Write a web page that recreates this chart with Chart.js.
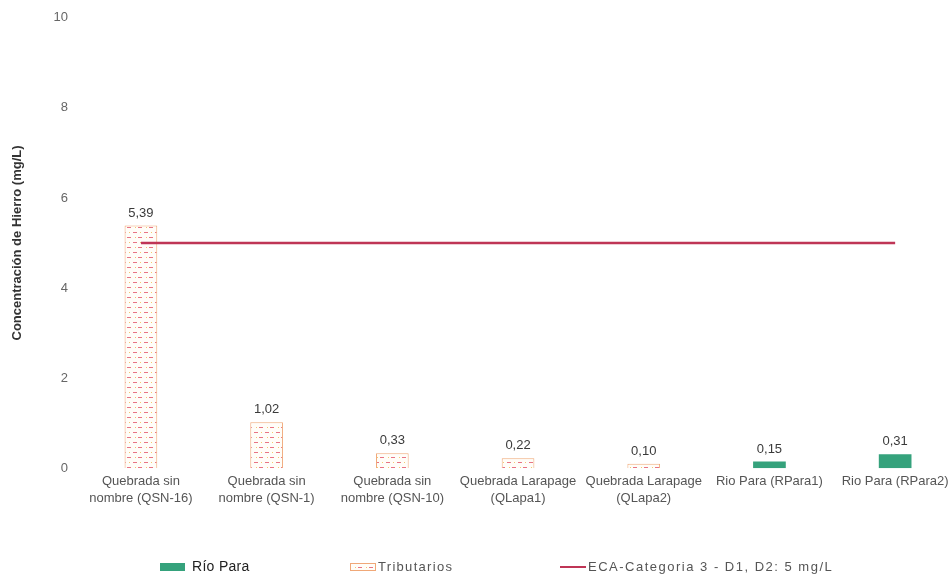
<!DOCTYPE html>
<html>
<head>
<meta charset="utf-8">
<script src="https://cdn.jsdelivr.net/npm/chart.js@4/dist/chart.umd.min.js"></script>
<style>
  html, body { margin: 0; padding: 0; background: #ffffff; overflow: hidden; }
  #wrap { width: 949px; height: 577px; overflow: hidden; }
  canvas { display: block; }
</style>
</head>
<body>
<div id="wrap"><canvas id="c" width="958" height="577"></canvas></div>
<script>
const categories = [
  ["Quebrada sin", "nombre (QSN-16)"],
  ["Quebrada sin", "nombre (QSN-1)"],
  ["Quebrada sin", "nombre (QSN-10)"],
  ["Quebrada Larapage", "(QLapa1)"],
  ["Quebrada Larapage", "(QLapa2)"],
  "Rio Para (RPara1)",
  "Rio Para (RPara2)"
];
const tributarios = [5.39, 1.02, 0.33, 0.22, 0.10, null, null];
const rioPara = [null, null, null, null, null, 0.15, 0.31];
const ecaLimit = [5, 5, 5, 5, 5, 5, 5];
const yTicks = [0, 2, 4, 6, 8, 10];

const seriesNames = { rio: "Río Para", trib: "Tributarios", eca: "ECA-Categoria 3 - D1, D2: 5 mg/L" };
const yTitle = "Concentración de Hierro (mg/L)";

const GREEN = '#35a27c';
const ECA_COLOR = '#bf3556';
const TRIB_BORDER = '#f0a878';
const FONT = '"Liberation Sans", Arial, sans-serif';

function makePattern() {
  const p = document.createElement('canvas');
  p.width = 11; p.height = 10;
  const g = p.getContext('2d');
  g.fillStyle = '#fffdf8';
  g.fillRect(0, 0, 11, 10);
  g.fillStyle = '#e87484';
  g.fillRect(1, 2, 4, 1);
  g.fillRect(6, 7, 4, 1);
  g.fillStyle = '#f3c870';
  g.fillRect(8, 2, 1, 1);
  g.fillRect(3, 7, 1, 1);
  return document.getElementById('c').getContext('2d').createPattern(p, 'repeat');
}
const tribPattern = makePattern();

const fmt = v => v.toFixed(2).replace('.', ',');

const spacing = {
  id: 'spacing',
  beforeInit(chart) { chart.ctx.letterSpacing = '0.4px'; }
};

const valueLabels = {
  id: 'valueLabels',
  afterDatasetsDraw(chart) {
    const ctx = chart.ctx;
    ctx.save();
    ctx.font = '13px ' + FONT;
    ctx.fillStyle = '#3a3a3a';
    ctx.textAlign = 'center';
    ctx.textBaseline = 'bottom';
    chart.data.datasets.forEach((ds, di) => {
      if (ds.type === 'line') return;
      const meta = chart.getDatasetMeta(di);
      meta.data.forEach((el, i) => {
        const v = ds.data[i];
        if (v === null || v === undefined) return;
        ctx.fillText(fmt(v), el.x, el.y - 6);
      });
    });
    ctx.restore();
  }
};

const customLegend = {
  id: 'customLegend',
  afterDraw(chart) {
    const ctx = chart.ctx;
    const y = chart.height - 10;
    ctx.save();
    ctx.textBaseline = 'middle';
    ctx.textAlign = 'left';
    // Río Para
    let x = 160;
    ctx.fillStyle = GREEN;
    ctx.fillRect(x, y - 4, 25, 8);
    ctx.font = '14px ' + FONT;
    ctx.letterSpacing = '0.3px';
    ctx.fillStyle = '#222';
    ctx.fillText(seriesNames.rio, x + 32, y);
    // Tributarios
    x = 350;
    ctx.fillStyle = tribPattern;
    ctx.fillRect(x, y - 4, 26, 8);
    ctx.strokeStyle = TRIB_BORDER;
    ctx.lineWidth = 1;
    ctx.strokeRect(x + 0.5, y - 3.5, 25, 7);
    ctx.font = '13px ' + FONT;
    ctx.letterSpacing = '1.3px';
    ctx.fillStyle = '#555';
    ctx.fillText(seriesNames.trib, x + 28, y);
    // ECA
    x = 560;
    ctx.strokeStyle = ECA_COLOR;
    ctx.lineWidth = 2;
    ctx.beginPath();
    ctx.moveTo(x, y);
    ctx.lineTo(x + 26, y);
    ctx.stroke();
    ctx.letterSpacing = '1.5px';
    ctx.fillStyle = '#555';
    ctx.fillText(seriesNames.eca, x + 28, y);
    ctx.restore();
  }
};

new Chart(document.getElementById('c'), {
  data: {
    labels: categories,
    datasets: [
      {
        type: 'line',
        label: seriesNames.eca,
        data: ecaLimit,
        borderColor: ECA_COLOR,
        borderWidth: 2.5,
        pointRadius: 0,
        fill: false,
        order: 0
      },
      {
        type: 'bar',
        label: seriesNames.trib,
        data: tributarios,
        backgroundColor: tribPattern,
        borderColor: TRIB_BORDER,
        borderWidth: 1,
        order: 1
      },
      {
        type: 'bar',
        label: seriesNames.rio,
        data: rioPara,
        backgroundColor: GREEN,
        borderWidth: 0,
        order: 1
      }
    ]
  },
  options: {
    responsive: false,
    animation: false,
    datasets: { bar: { grouped: false, categoryPercentage: 1, barPercentage: 0.26 } },
    layout: { padding: { top: 10, right: 0, bottom: 65, left: 10 } },
    plugins: {
      legend: { display: false },
      tooltip: { enabled: false }
    },
    scales: {
      x: {
        grid: { display: false, drawTicks: false },
        border: { display: false },
        ticks: {
          color: '#555',
          font: { family: FONT, size: 13, lineHeight: 1.3 },
          maxRotation: 0,
          autoSkip: false,
          padding: 5
        }
      },
      y: {
        min: 0,
        max: 10,
        grid: { display: false, drawTicks: false },
        border: { display: false },
        afterBuildTicks(scale) { scale.ticks = yTicks.map(v => ({ value: v })); },
        ticks: {
          color: '#666',
          font: { family: FONT, size: 13 },
          padding: 10
        },
        title: {
          display: true,
          text: yTitle,
          color: '#333',
          font: { family: FONT, size: 13, weight: 'bold' },
          padding: { top: 0, bottom: 18 }
        }
      }
    }
  },
  plugins: [spacing, valueLabels, customLegend]
});
</script>
</body>
</html>
